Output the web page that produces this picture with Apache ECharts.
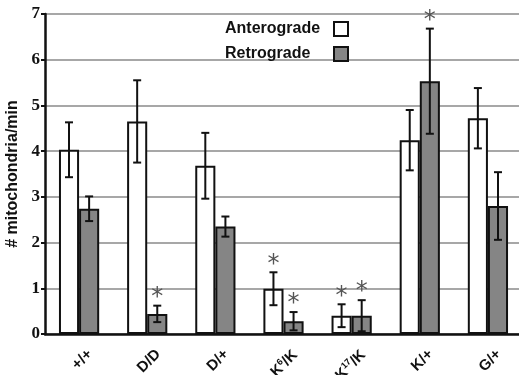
<!DOCTYPE html>
<html><head><meta charset="utf-8">
<script src="https://cdn.jsdelivr.net/npm/echarts@6/dist/echarts.min.js"></script>
<style>html,body{margin:0;padding:0;background:#fff}#c{width:519px;height:375px}</style>
</head><body><div id="c"></div>
<script>
const categories = ['+/+', 'D/D', 'D/+', 'K6/K', 'K17/K', 'K/+', 'G/+'];
const categoryLabels = ['+/+', 'D/D', 'D/+', 'K{sup|6}/K', 'K{sup|17}/K', 'K/+', 'G/+'];
const antero = [4.03, 4.65, 3.68, 0.99, 0.40, 4.24, 4.72];
const anteroErr = [0.6, 0.9, 0.72, 0.36, 0.25, 0.66, 0.66];
const retro = [2.74, 0.44, 2.35, 0.28, 0.40, 5.53, 2.80];
const retroErr = [0.27, 0.18, 0.22, 0.2, 0.34, 1.15, 0.74];
const anteroSig = [false, false, false, true, true, false, false];
const retroSig = [false, true, false, true, true, true, false];
const yTicks = [0, 1, 2, 3, 4, 5, 6, 7];

const CAT_GAP = 0.41;
const SANS = '"Liberation Sans", Arial, sans-serif';
const chart = echarts.init(document.getElementById('c'));

function errSeries(vals, errs, sigs, side) {
  return {
    type: 'custom',
    z: 5,
    data: vals.map((v, i) => [i, v, errs[i], sigs[i] ? 1 : 0]),
    renderItem: function (params, api) {
      const i = api.value(0), v = api.value(1), e = api.value(2), s = api.value(3);
      const band = api.size([1, 0])[0];
      const bw = band * (1 - CAT_GAP) / 2;
      const c = api.coord([i, v]);
      const x = c[0] + side * bw / 2;
      const top = api.coord([i, v + e])[1];
      const bot = api.coord([i, v - e])[1];
      const cap = 4;
      const st = { stroke: '#111', lineWidth: 2 };
      const ch = [
        { type: 'line', shape: { x1: x, y1: top, x2: x, y2: bot }, style: st },
        { type: 'line', shape: { x1: x - cap, y1: top, x2: x + cap, y2: top }, style: st },
        { type: 'line', shape: { x1: x - cap, y1: bot, x2: x + cap, y2: bot }, style: st }
      ];
      if (s) {
        ch.push({ type: 'text', style: { text: '*', x: x, y: top + 4, align: 'center', verticalAlign: 'bottom',
          font: '24px "DejaVu Sans", sans-serif', fill: '#555' } });
      }
      return { type: 'group', children: ch };
    }
  };
}

chart.setOption({
  animation: false,
  grid: { left: 45, right: -3, top: 14, bottom: 41, containLabel: false, outerBoundsMode: 'none' },
  legend: {
    orient: 'vertical', left: 220, top: 16, itemGap: 9, align: 'right',
    itemWidth: 14, itemHeight: 14,
    formatter: name => '{t|' + name + '}',
    textStyle: { rich: { t: { fontFamily: SANS, fontWeight: 'bold', fontSize: 16, color: '#111', width: 104, align: 'left' } } },
    data: [
      { name: 'Anterograde', icon: 'rect', itemStyle: { color: '#fff', borderColor: '#111', borderWidth: 2 } },
      { name: 'Retrograde', icon: 'rect', itemStyle: { color: '#858585', borderColor: '#111', borderWidth: 2 } }
    ]
  },
  xAxis: {
    type: 'category', data: categories,
    axisLine: { lineStyle: { color: '#111', width: 2.5 } },
    axisTick: { show: false },
    axisLabel: {
      rotate: 45, margin: 7, interval: 0, verticalAlign: 'top', padding: [8, 0, 0, 0],
      formatter: (v, idx) => categoryLabels[idx],
      fontFamily: SANS, fontWeight: 'bold', fontSize: 15, color: '#111',
      rich: { sup: { fontSize: 9, fontWeight: 'bold', verticalAlign: 'top', padding: [0, 0, 8, 0], fontFamily: SANS, color: '#111' } }
    }
  },
  yAxis: {
    type: 'value', min: yTicks[0], max: yTicks[yTicks.length - 1], interval: 1,
    name: '# mitochondria/min', nameLocation: 'middle', nameGap: 23, nameRotate: 90,
    nameTextStyle: { fontFamily: SANS, fontWeight: 'bold', fontSize: 16, color: '#111' },
    axisLine: { show: true, lineStyle: { color: '#111', width: 2.5 } },
    axisTick: { show: true, length: 4, lineStyle: { color: '#111', width: 2 } },
    axisLabel: { margin: 5, fontFamily: '"Liberation Serif", "Times New Roman", serif', fontWeight: 'bold', fontSize: 17, color: '#111' },
    splitLine: { lineStyle: { color: '#8a8a8a', width: 1.5 } }
  },
  series: [
    { name: 'Anterograde', type: 'bar', data: antero, barGap: '0%', barCategoryGap: (CAT_GAP * 100) + '%',
      itemStyle: { color: '#fff', borderColor: '#111', borderWidth: 2 } },
    { name: 'Retrograde', type: 'bar', data: retro, barGap: '0%', barCategoryGap: (CAT_GAP * 100) + '%',
      itemStyle: { color: '#858585', borderColor: '#111', borderWidth: 2 } },
    errSeries(antero, anteroErr, anteroSig, -1),
    errSeries(retro, retroErr, retroSig, 1)
  ]
});
</script></body></html>
